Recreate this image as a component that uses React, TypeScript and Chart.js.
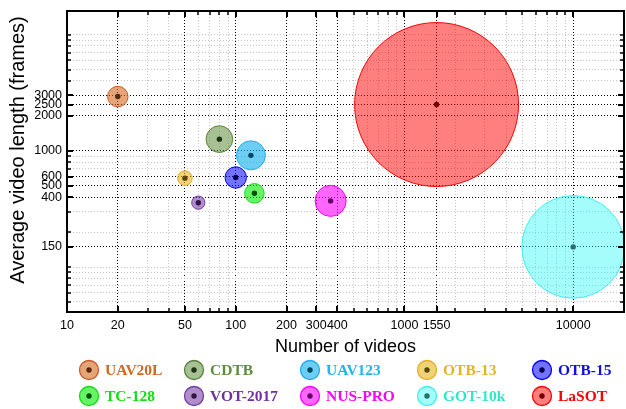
import { useEffect, useRef } from 'react';
import { Chart, registerables } from 'chart.js';

Chart.register(...registerables);

// Tracking benchmarks: size of each dataset
const benchmarks = ['UAV20L', 'CDTB', 'UAV123', 'OTB-13', 'OTB-15', 'TC-128', 'VOT-2017', 'NUS-PRO', 'GOT-10k', 'LaSOT'];
const numVideos = [20, 80, 123, 50, 100, 129, 60, 365, 10000, 1550];
const avgLength = [2934, 1262, 915, 582, 590, 431, 358, 371, 149, 2506];
// total frames (thousands); bubble area is proportional to it
const totalFramesK = [55, 93, 110, 28, 60, 50, 23, 126, 1380, 3520];

// axis ticks (labelled and minor)
const xMajor = [10, 20, 50, 100, 200, 300, 400, 1000, 1550, 10000];
const xMinor = [30, 40, 60, 70, 80, 90, 500, 600, 700, 800, 900, 2000, 3000, 4000, 5000, 6000, 7000, 8000, 9000, 20000];
const yMajor = [150, 400, 500, 600, 1000, 2000, 2500, 3000];
const yMinor = [50, 60, 70, 80, 90, 100, 200, 300, 700, 800, 900, 4000, 5000, 6000, 7000, 8000, 9000, 10000];

const fillColors = [
  'rgba(210,105,30,0.6)',
  'rgba(95,140,60,0.55)',
  'rgba(30,180,240,0.65)',
  'rgba(230,180,30,0.6)',
  'rgba(0,0,255,0.55)',
  'rgba(0,235,0,0.6)',
  'rgba(112,48,160,0.55)',
  'rgba(255,0,255,0.6)',
  'rgba(40,250,245,0.42)',
  'rgba(255,0,0,0.5)',
];
const strokeColors = ['#cd5a28', '#5a823c', '#1eafeb', '#e6af1e', '#0000ff', '#14dc14', '#7040a0', '#ff00ff', '#3cf0f0', '#ff0000'];
const dotColors = ['#5a280a', '#1e3214', '#00465f', '#5a460a', '#000050', '#005000', '#321446', '#640064', '#286e6e', '#6e0000'];
const textColors = ['#d2691e', '#5f8c3e', '#1eb4f0', '#e6b422', '#1010e0', '#10e010', '#7030a0', '#ff00ff', '#30e8c8', '#ff0000'];

const SANS = "'Liberation Sans', Arial, sans-serif";
const SERIF = "'Liberation Serif', 'Times New Roman', serif";
const SIZE_K = 0.0437;

const xMajorSet = new Set(xMajor);
const yMajorSet = new Set(yMajor);
const sortNum = (a: number, b: number) => a - b;

const framePlugin = {
  id: 'frameAndLegend',
  afterDraw(chart: any) {
    const { ctx, chartArea: a, scales } = chart;
    const xs = scales.x;
    const ys = scales.y;
    ctx.save();
    ctx.strokeStyle = '#000';

    // inward tick marks on all four sides
    const drawX = (vals: number[], len: number, w: number) => {
      ctx.lineWidth = w;
      ctx.beginPath();
      for (const v of vals) {
        const px = Math.round(xs.getPixelForValue(v));
        ctx.moveTo(px, a.bottom);
        ctx.lineTo(px, a.bottom - len);
        ctx.moveTo(px, a.top);
        ctx.lineTo(px, a.top + len);
      }
      ctx.stroke();
    };
    const drawY = (vals: number[], len: number, w: number) => {
      ctx.lineWidth = w;
      ctx.beginPath();
      for (const v of vals) {
        const py = Math.round(ys.getPixelForValue(v));
        ctx.moveTo(a.left, py);
        ctx.lineTo(a.left + len, py);
        ctx.moveTo(a.right, py);
        ctx.lineTo(a.right - len, py);
      }
      ctx.stroke();
    };
    drawX(xMinor, 4, 1.5);
    drawX(xMajor, 6, 2);
    drawY(yMinor, 4, 1.5);
    drawY(yMajor, 6, 2);

    ctx.lineWidth = 2;
    ctx.strokeRect(a.left, a.top, a.right - a.left, a.bottom - a.top);

    // y axis title
    ctx.save();
    ctx.translate(18, 150);
    ctx.rotate(-Math.PI / 2);
    ctx.fillStyle = '#000';
    ctx.font = `20px ${SANS}`;
    ctx.textAlign = 'center';
    ctx.textBaseline = 'middle';
    ctx.fillText('Average video length (frames)', 0, 0);
    ctx.restore();

    // legend: two rows of five
    const colX = [89, 194, 310, 427, 542];
    const rowY = [370, 396];
    ctx.font = `bold 15.5px ${SERIF}`;
    ctx.textBaseline = 'middle';
    ctx.textAlign = 'left';
    benchmarks.forEach((name, i) => {
      const cx = colX[i % 5];
      const cy = rowY[Math.floor(i / 5)];
      ctx.beginPath();
      ctx.arc(cx, cy, 9.5, 0, Math.PI * 2);
      ctx.fillStyle = fillColors[i];
      ctx.fill();
      ctx.lineWidth = 1.3;
      ctx.strokeStyle = strokeColors[i];
      ctx.stroke();
      ctx.beginPath();
      ctx.arc(cx, cy, 2.7, 0, Math.PI * 2);
      ctx.fillStyle = dotColors[i];
      ctx.fill();
      ctx.fillStyle = textColors[i];
      ctx.fillText(name, cx + 16, cy + 1);
    });
    ctx.restore();
  },
};

export default function App() {
  const ref = useRef<HTMLCanvasElement | null>(null);

  useEffect(() => {
    if (!ref.current) return;
    const bubbles = benchmarks.map((name, i) => ({
      label: name,
      data: [{ x: numVideos[i], y: avgLength[i], r: Math.sqrt(totalFramesK[i] * 1000) * SIZE_K }],
      backgroundColor: fillColors[i],
      borderColor: strokeColors[i],
      borderWidth: 1,
      order: 1,
    }));
    const centres = {
      label: 'centres',
      data: benchmarks.map((_, i) => ({ x: numVideos[i], y: avgLength[i], r: 2.7 })),
      backgroundColor: dotColors,
      borderWidth: 0,
      order: 0,
    };

    const chart = new Chart(ref.current, {
      type: 'bubble',
      data: { datasets: [...bubbles, centres] as any },
      options: {
        animation: false,
        responsive: false,
        devicePixelRatio: 1,
        events: [],
        layout: { autoPadding: false, padding: { left: 0, right: 2, top: 11, bottom: 51 } },
        plugins: { legend: { display: false }, tooltip: { enabled: false } },
        scales: {
          x: {
            type: 'logarithmic',
            position: 'bottom',
            min: 10,
            max: 20000,
            afterFit: (s: any) => {
              s.height = 46;
              s.paddingLeft = 0;
              s.paddingRight = 0;
            },
            afterBuildTicks: (s: any) => {
              s.ticks = [...xMajor, ...xMinor].sort(sortNum).map((v) => ({ value: v }));
            },
            ticks: {
              autoSkip: false,
              maxRotation: 0,
              padding: 6,
              color: '#000',
              font: { family: SANS, size: 12.5 },
              callback: (v: any) => (xMajorSet.has(v) ? String(v) : ''),
            },
            grid: {
              drawTicks: false,
              lineWidth: 1,
              color: (c: any) => (xMajorSet.has(c.tick?.value) ? '#000' : '#c4c4c4'),
            },
            border: {
              display: false,
              dash: [1, 2],
            },
            title: {
              display: true,
              text: 'Number of videos',
              color: '#000',
              font: { family: SANS, size: 18 },
              padding: { top: 0, bottom: 0 },
            },
          },
          y: {
            type: 'logarithmic',
            position: 'left',
            min: 41,
            max: 16000,
            afterFit: (s: any) => {
              s.width = 67;
              s.paddingTop = 0;
              s.paddingBottom = 0;
            },
            afterBuildTicks: (s: any) => {
              s.ticks = [...yMajor, ...yMinor].sort(sortNum).map((v) => ({ value: v }));
            },
            ticks: {
              autoSkip: false,
              padding: 5,
              color: '#000',
              font: { family: SANS, size: 12.5 },
              callback: (v: any) => (yMajorSet.has(v) ? String(v) : ''),
            },
            grid: {
              drawTicks: false,
              lineWidth: 1,
              color: (c: any) => (yMajorSet.has(c.tick?.value) ? '#000' : '#c4c4c4'),
            },
            border: {
              display: false,
              dash: [1, 2],
            },
          },
        },
      } as any,
      plugins: [framePlugin],
    });
    return () => chart.destroy();
  }, []);

  return (
    <div style={{ position: 'absolute', left: 0, top: 0, width: 626, height: 409, background: '#fff' }}>
      <canvas ref={ref} width={626} height={409} style={{ display: 'block' }} />
    </div>
  );
}
